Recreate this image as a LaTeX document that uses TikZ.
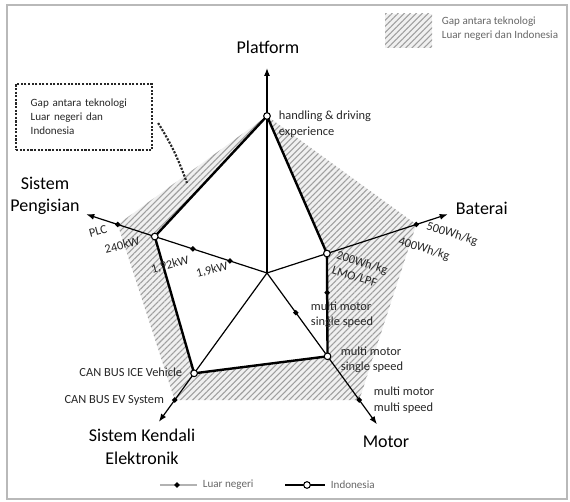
\documentclass[tikz,border=0pt]{standalone}
\usepackage{fontspec}
\setmainfont{Carlito}
\usetikzlibrary{calc,arrows.meta,patterns.meta}

\begin{document}
\begin{tikzpicture}[x=0.75pt,y=0.75pt,
    axis/.style={line width=0.9pt,-{Latex[length=6pt,width=4.5pt]}},
    indo/.style={line width=1.8pt,line join=miter},
    dot/.style={circle,draw,fill=white,line width=0.8pt,inner sep=0pt,minimum size=5pt},
    tick/.style={fill,inner sep=0pt,minimum size=3pt,rotate=45},
    big/.style={font=\fontsize{13.5}{17}\selectfont,align=center,inner sep=0.5pt},
    small/.style={font=\fontsize{9.3}{11.6}\selectfont,text=black!85,inner sep=0.5pt},
    note/.style={font=\fontsize{8.3}{10.6}\selectfont,text=black!60},
    hatch/.style={pattern={Lines[angle=45,distance=3.2pt,line width=0.8pt]},pattern color=gray!75},
    dots/.style={line width=1.6pt,dash pattern=on 1.6pt off 1.1pt,black!85}]
  \useasboundingbox (-267,-229) rectangle (303,273);
  \draw[gray!55,line width=1pt] (-260,268) rectangle (300,-226);

  % axes
  \coordinate (O) at (0,0);
  \coordinate (pf) at (90:205);
  \coordinate (bt) at (18:190);
  \coordinate (mt) at (-54:187);
  \coordinate (ke) at (-126:184);
  \coordinate (pg) at (162:190);

  % luar negeri
  \coordinate (lPf) at (90:157);
  \coordinate (lBt) at (18:157);
  \coordinate (lMt) at (-54:157);
  \coordinate (lKe) at (-126:157);
  \coordinate (lPg) at (162:157);

  % indonesia
  \coordinate (iPf) at (90:157);
  \coordinate (iBt) at (18:63);
  \coordinate (iMt) at (-54:103);
  \coordinate (iKe) at (-126:124);
  \coordinate (iPg) at (162:118);

  % gap
  \fill[gray!12,even odd rule] (lPf) -- (lBt) -- (lMt) -- (lKe) -- (lPg) -- cycle
    (iPf) -- (iBt) -- (iMt) -- (iKe) -- (iPg) -- cycle;
  \fill[hatch,even odd rule] (lPf) -- (lBt) -- (lMt) -- (lKe) -- (lPg) -- cycle
    (iPf) -- (iBt) -- (iMt) -- (iKe) -- (iPg) -- cycle;

  \draw[axis] (O) -- (pf);
  \draw[axis] (O) -- (bt);
  \draw[axis] (O) -- (mt);
  \draw[axis] (O) -- (ke);
  \draw[axis] (O) -- (pg);

  \draw[indo] (iPf) -- (iBt) -- (iMt) -- (iKe) -- (iPg) -- cycle;

  \node[tick] (t1) at (lPg) {};
  \node[tick] (t2) at (162:78) {};
  \node[tick] (t3) at (162:39) {};
  \node[tick] (t4) at (lBt) {};
  \node[tick] (t5) at (-54:49) {};
  \node[tick] (t6) at (lMt) {};
  \node[tick] (t7) at (lKe) {};
  \node[tick] (t8) at ($(iBt)!0.38!(iMt)$) {};

  \node[dot] (dPf) at (iPf) {};
  \node[dot] (dBt) at (iBt) {};
  \node[dot] (dMt) at (iMt) {};
  \node[dot] (dKe) at (iKe) {};
  \node[dot] (dPg) at (iPg) {};

  % axis titles
  \node[big] (Platform) at (1,226) {Platform};
  \node[big,anchor=west] (Baterai) at (188,65) {Baterai};
  \node[big] (Motor) at (119,-169) {Motor};
  \node[big] (Kendali) at (-125,-174) {Sistem Kendali\\Elektronik};
  \node[big] (Pengisian) at (-222,77) {Sistem\\Pengisian};

  % values
  \node[small,align=left,anchor=west] (lbHd) at (11,149) {handling \& driving\\experience};
  \node[small,rotate=15] (lbPlc) at (-169,42) {PLC};
  \node[small,rotate=15] (lb240) at (-145,28) {240kW};
  \node[small,rotate=15] (lb192) at (-97,8) {1,92kW};
  \node[small,rotate=15] (lb19) at (-55,3) {1,9kW};
  \node[small,rotate=-17] (lb500) at (185,39) {500Wh/kg};
  \node[small,rotate=-17] (lb400) at (157,24) {400Wh/kg};
  \node[small,rotate=-17,align=left] (lb200) at (93,3) {200Wh/kg\\LMO/LPF};
  \node[small,align=left,anchor=west] (lbMs1) at (43,-42) {multi motor\\single speed};
  \node[small,align=left,anchor=west] (lbMs2) at (73,-87) {multi motor\\single speed};
  \node[small,align=left,anchor=west] (lbMm) at (106,-127) {multi motor\\multi speed};
  \node[small,anchor=east] (lbIce) at (-84,-99) {CAN BUS ICE Vehicle};
  \node[small,anchor=east] (lbEv) at (-102,-127) {CAN BUS EV System};

  % note box
  \node[note,draw=black!85,dots,align=left,text width=80pt,
    inner xsep=11pt,minimum height=49.5pt,anchor=north west] (gapbox) at (-252,190)
    {Gap antara teknologi\\Luar negeri dan\\Indonesia};
  \coordinate (gaptip) at (-80,90);
  \draw[dots] ($(gapbox.east)+(5,-6)$) to[out=-58,in=110] (gaptip);

  % legends
  \fill[gray!12] (118,259) rectangle (165,225);
  \fill[hatch] (118,259) rectangle (165,225);
  \node[note,align=left,anchor=west,inner sep=0.5pt] (lgGap) at (174,244)
    {Gap antara teknologi\\Luar negeri dan Indonesia};

  \coordinate (lgL1) at (-107,-212);
  \coordinate (lgL2) at (-70,-212);
  \draw[gray!60,line width=1.2pt] (lgL1) -- (lgL2);
  \node[tick] (lgLt) at (-90,-212) {};
  \node[note,anchor=west,inner sep=0.5pt] (lgLuar) at (-65,-212) {Luar negeri};

  \coordinate (lgI1) at (18,-212);
  \coordinate (lgI2) at (58,-212);
  \draw[indo] (lgI1) -- (lgI2);
  \node[dot] (lgId) at (40,-212) {};
  \node[note,anchor=west,inner sep=0.5pt] (lgIndo) at (63,-212) {Indonesia};
\end{tikzpicture}
\end{document}
